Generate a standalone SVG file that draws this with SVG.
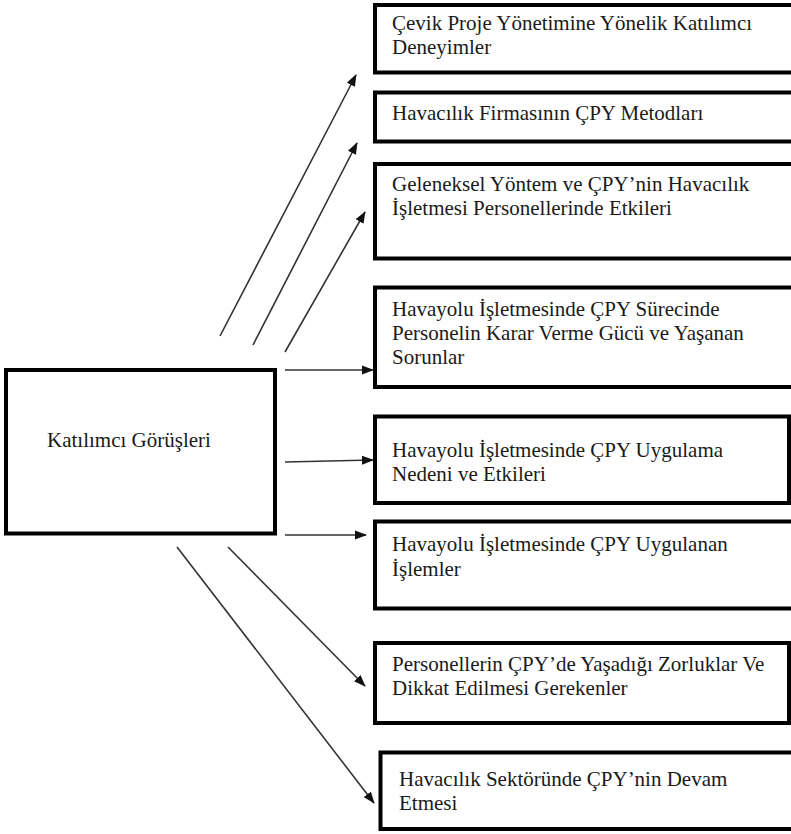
<svg xmlns="http://www.w3.org/2000/svg" width="791" height="834" viewBox="0 0 791 834">
<defs>
<style>
.box{fill:#fff;stroke:#000;stroke-width:4}
.t{font-family:"Liberation Serif","Times New Roman",serif;font-size:21px;fill:#1a1a1a}
.c{fill:none;stroke:#333;stroke-width:1.6}
</style>
<marker id="ah" markerUnits="userSpaceOnUse" markerWidth="12" markerHeight="10" refX="11" refY="5" orient="auto" viewBox="0 0 12 10">
<path d="M0,0.5 L12,5 L0,9.5 z" fill="#111"/>
</marker>
</defs>
<rect width="791" height="834" fill="#fff"/>
<g id="connectors">
<line class="c" x1="220" y1="336" x2="356" y2="75" marker-end="url(#ah)"/>
<line class="c" x1="253" y1="345" x2="357" y2="143" marker-end="url(#ah)"/>
<line class="c" x1="285" y1="352" x2="365" y2="212" marker-end="url(#ah)"/>
<line class="c" x1="285" y1="370" x2="373" y2="370" marker-end="url(#ah)"/>
<line class="c" x1="285" y1="462" x2="373" y2="460" marker-end="url(#ah)"/>
<line class="c" x1="285" y1="535" x2="366" y2="535" marker-end="url(#ah)"/>
<line class="c" x1="228" y1="547" x2="365" y2="686" marker-end="url(#ah)"/>
<line class="c" x1="177" y1="547" x2="374" y2="803" marker-end="url(#ah)"/>
</g>
<g id="center">
<rect class="box" x="6" y="370" width="269" height="163.5"/>
<text class="t" x="47" y="447">Katılımcı Görüşleri</text>
</g>
<g id="n1">
<rect class="box" x="375" y="5" width="420" height="67.5"/>
<text class="t" x="392" y="30">Çevik Proje Yönetimine Yönelik Katılımcı</text>
<text class="t" x="392" y="54">Deneyimler</text>
</g>
<g id="n2">
<rect class="box" x="375" y="92.5" width="420" height="49"/>
<text class="t" x="392" y="120">Havacılık Firmasının ÇPY Metodları</text>
</g>
<g id="n3">
<rect class="box" x="375" y="164" width="420" height="94.5"/>
<text class="t" x="392" y="191">Geleneksel Yöntem ve ÇPY’nin Havacılık</text>
<text class="t" x="392" y="215">İşletmesi Personellerinde Etkileri</text>
</g>
<g id="n4">
<rect class="box" x="375" y="287.5" width="420" height="99.5"/>
<text class="t" x="392" y="316">Havayolu İşletmesinde ÇPY Sürecinde</text>
<text class="t" x="392" y="340">Personelin Karar Verme Gücü ve Yaşanan</text>
<text class="t" x="392" y="364">Sorunlar</text>
</g>
<g id="n5">
<rect class="box" x="375" y="416.5" width="414" height="86.5"/>
<text class="t" x="392" y="457">Havayolu İşletmesinde ÇPY Uygulama</text>
<text class="t" x="392" y="481">Nedeni ve Etkileri</text>
</g>
<g id="n6">
<rect class="box" x="375" y="521.5" width="420" height="87"/>
<text class="t" x="392" y="551">Havayolu İşletmesinde ÇPY Uygulanan</text>
<text class="t" x="392" y="576">İşlemler</text>
</g>
<g id="n7">
<rect class="box" x="375" y="643" width="414" height="80"/>
<text class="t" x="392" y="671">Personellerin ÇPY’de Yaşadığı Zorluklar Ve</text>
<text class="t" x="392" y="695">Dikkat Edilmesi Gerekenler</text>
</g>
<g id="n8">
<rect class="box" x="380.5" y="752.5" width="420" height="76.5"/>
<text class="t" x="399" y="786">Havacılık Sektöründe ÇPY’nin Devam</text>
<text class="t" x="399" y="810">Etmesi</text>
</g>
</svg>
